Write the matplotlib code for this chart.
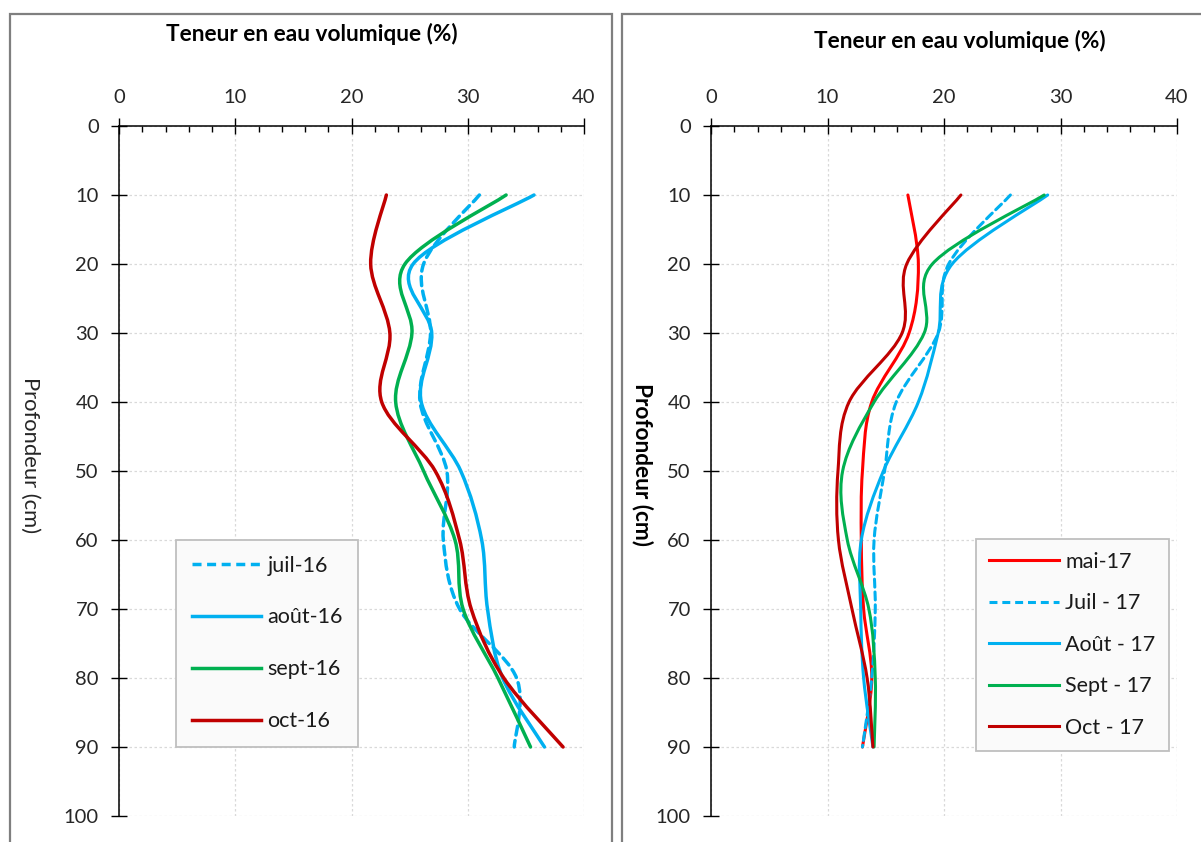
import numpy as np
import matplotlib
matplotlib.use('Agg')
import matplotlib.pyplot as plt
from matplotlib.path import Path
from matplotlib.patches import PathPatch, Rectangle
from matplotlib.lines import Line2D
from matplotlib.ticker import MultipleLocator

plt.rcParams['font.family'] = ['Lato', 'DejaVu Sans']

# ---------------- data ----------------
depth = [10, 20, 30, 40, 50, 60, 70, 80, 90]

labels_2016 = ['juil-16', 'août-16', 'sept-16', 'oct-16']
juil16 = [31.0, 26.2, 26.8, 25.9, 28.2, 27.9, 29.3, 34.2, 34.0]
aout16 = [35.7, 25.3, 26.9, 26.0, 29.4, 31.2, 31.7, 33.0, 36.6]
sept16 = [33.3, 24.6, 25.2, 23.8, 26.2, 28.9, 29.6, 32.6, 35.4]
oct16 = [23.0, 21.65, 23.3, 22.6, 27.2, 29.3, 30.3, 33.1, 38.2]

labels_2017 = ['mai-17', 'Juil - 17', 'Août - 17', 'Sept - 17', 'Oct - 17']
mai17 = [16.9, 17.8, 17.0, 13.8, 13.0, 12.9, 13.1, 13.8, 13.0]
juil17 = [25.7, 20.4, 19.5, 15.9, 14.9, 14.0, 14.1, 13.8, 13.0]
aout17 = [28.9, 20.7, 19.5, 17.8, 14.8, 12.9, 12.85, 13.1, 13.9]
sept17 = [28.6, 19.0, 18.3, 14.0, 11.3, 11.7, 13.55, 14.1, 14.0]
oct17 = [21.45, 16.8, 16.4, 11.85, 10.9, 10.94, 12.1, 13.4, 13.9]

xticks = [0, 10, 20, 30, 40]
yticks = [0, 10, 20, 30, 40, 50, 60, 70, 80, 90, 100]

BLUE = '#00B0F0'
GREEN = '#00B050'
DARKRED = '#C00000'
RED = '#FF0000'

W, H = 1201, 842
fig = plt.figure(figsize=(W / 100, H / 100), dpi=100)


def fx(px):
    return px / W


def fy(py):
    return 1 - py / H


def smooth_path(x, y):
    """Excel-like smoothed line: cubic Bezier segments through the data points."""
    P = np.column_stack([x, y]).astype(float)
    n = len(P)
    verts = [P[0]]
    codes = [Path.MOVETO]
    for i in range(n - 1):
        p_prev = P[i - 1] if i > 0 else P[i]
        p_next2 = P[i + 2] if i + 2 < n else P[i + 1]
        c1 = P[i] + (P[i + 1] - p_prev) / 6
        c2 = P[i + 1] - (p_next2 - P[i]) / 6
        verts += [c1, c2, P[i + 1]]
        codes += [Path.CURVE4] * 3
    return Path(verts, codes)


def setup(ax):
    ax.set_xlim(0, 40)
    ax.set_ylim(100, 0)
    ax.xaxis.tick_top()
    ax.set_xticks(xticks)
    ax.set_yticks(yticks)
    ax.xaxis.set_minor_locator(MultipleLocator(2))
    ax.tick_params(axis='both', which='major', direction='inout', length=11,
                   width=1, labelsize=14.5, pad=9, color='black', labelcolor='#262626')
    ax.tick_params(axis='x', which='minor', direction='in', length=4, width=1)
    ax.tick_params(axis='y', which='minor', left=False)
    for s in ['right', 'bottom']:
        ax.spines[s].set_visible(False)
    for s in ['top', 'left']:
        ax.spines[s].set_linewidth(1.1)
        ax.spines[s].set_color('black')
    ax.grid(True, which='major', linestyle=(0, (2, 2)), color='#D9D9D9', linewidth=0.9)
    ax.set_axisbelow(True)
    ax.patch.set_alpha(0)


def draw(ax, xs, color, ls, lw):
    patch = PathPatch(smooth_path(xs, depth), fill=False, edgecolor=color,
                      linestyle=ls, linewidth=lw, capstyle='round', joinstyle='round')
    ax.add_patch(patch)
    return Line2D([], [], color=color, linestyle=ls, linewidth=lw)


# frames around each chart
fig.add_artist(Rectangle((fx(10), -0.05), fx(602), fy(14) + 0.05, transform=fig.transFigure,
                         fill=False, edgecolor='#7F7F7F', linewidth=1.6))
fig.add_artist(Rectangle((fx(622), -0.05), fx(620), fy(14) + 0.05, transform=fig.transFigure,
                         fill=False, edgecolor='#7F7F7F', linewidth=1.6))

LEGFS = 15.5

# ---------------- left chart ----------------
ax1 = fig.add_axes([fx(119), fy(816), fx(584) - fx(119), fy(126) - fy(816)])
setup(ax1)
dash = (0, (2.6, 1.6))
h1 = [
    draw(ax1, juil16, BLUE, dash, 2.5),
    draw(ax1, aout16, BLUE, '-', 2.5),
    draw(ax1, sept16, GREEN, '-', 2.5),
    draw(ax1, oct16, DARKRED, '-', 2.5),
]
leg1 = ax1.legend(h1, labels_2016, loc='upper left', bbox_to_anchor=(fx(176), fy(540)),
                  bbox_transform=fig.transFigure, borderaxespad=0, fontsize=LEGFS,
                  handlelength=3.25, handletextpad=0.28, labelspacing=1.48, borderpad=0.72,
                  fancybox=False, framealpha=1, facecolor='#FAFAFA', edgecolor='#BFBFBF')
leg1.get_frame().set_linewidth(1.3)
for t in leg1.get_texts():
    t.set_color('#1A1A1A')

fig.text(fx(312), fy(34), 'Teneur en eau volumique (%)', ha='center', va='center',
         fontsize=16.3, fontweight='bold', color='black')
fig.text(fx(30), fy(455), 'Profondeur (cm)', rotation=-90, ha='center', va='center',
         fontsize=15.8, color='#262626')

# ---------------- right chart ----------------
ax2 = fig.add_axes([fx(711), fy(816), fx(1177) - fx(711), fy(126) - fy(816)])
setup(ax2)
h2 = [
    draw(ax2, mai17, RED, '-', 2.2),
    draw(ax2, juil17, BLUE, dash, 2.2),
    draw(ax2, aout17, BLUE, '-', 2.2),
    draw(ax2, sept17, GREEN, '-', 2.2),
    draw(ax2, oct17, DARKRED, '-', 2.2),
]
leg2 = ax2.legend(h2, labels_2017, loc='upper left', bbox_to_anchor=(fx(976), fy(539)),
                  bbox_transform=fig.transFigure, borderaxespad=0, fontsize=LEGFS,
                  handlelength=3.25, handletextpad=0.3, labelspacing=1.0, borderpad=0.6,
                  fancybox=False, framealpha=1, facecolor='#FAFAFA', edgecolor='#BFBFBF')
leg2.get_frame().set_linewidth(1.3)
for t in leg2.get_texts():
    t.set_color('#1A1A1A')

fig.text(fx(960), fy(41), 'Teneur en eau volumique (%)', ha='center', va='center',
         fontsize=16.3, fontweight='bold', color='black')
fig.text(fx(643), fy(465), 'Profondeur (cm)', rotation=-90, ha='center', va='center',
         fontsize=16.3, fontweight='bold', color='black')

fig.savefig('out.png', dpi=100)
